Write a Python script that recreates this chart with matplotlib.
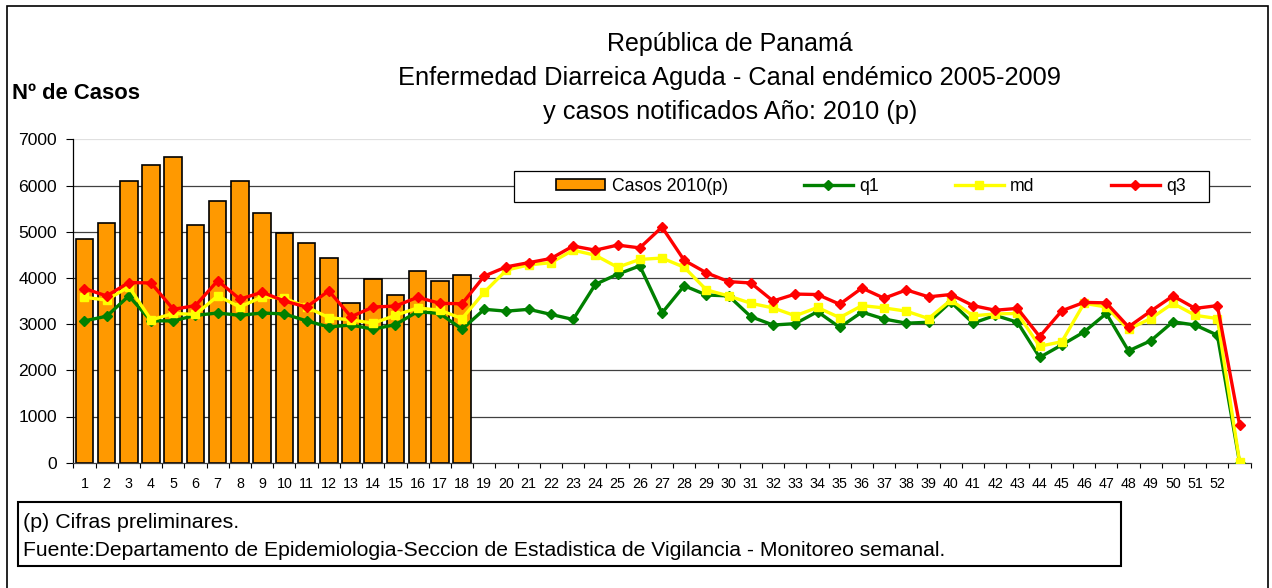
import matplotlib
matplotlib.use("Agg")
import matplotlib.pyplot as plt
import numpy as np
from matplotlib.patches import Rectangle
from matplotlib.lines import Line2D
from matplotlib.patches import Patch

plt.rcParams['font.family'] = ['Liberation Sans', 'DejaVu Sans']

# weeks 1..52 plus one trailing unlabeled week
week_labels = [str(i) for i in range(1, 53)]

casos_2010 = [4850, 5190, 6100, 6450, 6620, 5150, 5670, 6100, 5410, 4970,
              4760, 4420, 3460, 3980, 3640, 4150, 3940, 4070]

q1 = [3070, 3170, 3610, 3070, 3070, 3190, 3240, 3190, 3240, 3220,
      3070, 2940, 2980, 2890, 2990, 3270, 3230, 2890,
      3320, 3280, 3320, 3210, 3100, 3860, 4080, 4260, 3240, 3830,
      3630, 3610, 3160, 2980, 3010, 3270, 2930, 3260,
      3110, 3020, 3040, 3480, 3020, 3190, 3040, 2280, 2550, 2830,
      3230, 2420, 2640, 3050, 2980, 2760, 0]

md = [3580, 3520, 3810, 3090, 3230, 3210, 3610, 3370, 3590, 3560,
      3370, 3140, 3090, 3020, 3190, 3350, 3300, 3120,
      3690, 4170, 4280, 4330, 4600, 4490, 4230, 4400, 4430, 4230,
      3740, 3610, 3450, 3350, 3180, 3360, 3140, 3400,
      3350, 3280, 3120, 3520, 3180, 3220, 3230, 2520, 2620, 3450,
      3370, 2890, 3120, 3450, 3190, 3120, 20]

q3 = [3770, 3610, 3900, 3890, 3320, 3400, 3940, 3540, 3690, 3500,
      3370, 3720, 3160, 3370, 3390, 3580, 3450, 3440,
      4040, 4240, 4330, 4420, 4690, 4600, 4710, 4650, 5100, 4380,
      4110, 3920, 3890, 3500, 3650, 3640, 3430, 3780,
      3560, 3740, 3590, 3640, 3400, 3300, 3340, 2730, 3290, 3470,
      3460, 2940, 3280, 3610, 3340, 3400, 820]

W, H = 1272, 588


def fx(x):
    return x / W


def fy(y):
    return 1 - y / H


fig = plt.figure(figsize=(W / 100, H / 100), dpi=100)
ax = fig.add_axes([fx(73.3), fy(462.7), (1250.7 - 73.3) / W, (462.7 - 139.3) / H])

n = len(q1)
x = np.arange(n)

# gridlines behind everything
for v in range(1000, 7000, 1000):
    ax.axhline(v, color='#404040', lw=0.9, zorder=0)
ax.axhline(7000, color='#e0e0e0', lw=0.9, zorder=0)

ax.bar(np.arange(len(casos_2010)), casos_2010, width=0.79, color='#FF9900',
       edgecolor='black', linewidth=1.2, zorder=2)

ax.plot(x, q1, color='#008000', lw=2.4, marker='D', ms=5.5, zorder=3)
ax.plot(x, md, color='#FFFF00', lw=2.4, marker='s', ms=5.5, zorder=4)
ax.plot(x, q3, color='#FF0000', lw=2.4, marker='D', ms=5.5, zorder=5)

ax.set_xlim(-0.5, n - 0.5)
ax.set_ylim(0, 7000)
ax.set_yticks(range(0, 7001, 1000))
ax.tick_params(axis='y', length=4.75, width=0.8, pad=7, labelsize=12.6)

ax.set_xticks(np.arange(52))
ax.set_xticklabels(week_labels)
ax.set_xticks(np.arange(-0.5, n, 1), minor=True)
ax.tick_params(axis='x', which='major', length=0, pad=10, labelsize=10.3)
ax.tick_params(axis='x', which='minor', length=3.5, width=0.8)

for s in ['top', 'right']:
    ax.spines[s].set_visible(False)
ax.spines['left'].set_linewidth(0.9)
ax.spines['bottom'].set_linewidth(0.9)
ax.spines['bottom'].set_color('#404040')
ax.set_facecolor('none')

# titles
fig.text(fx(730), fy(51), 'República de Panamá', ha='center', va='baseline', fontsize=18)
fig.text(fx(730), fy(85), 'Enfermedad Diarreica Aguda - Canal endémico 2005-2009',
         ha='center', va='baseline', fontsize=18.3)
fig.text(fx(730), fy(119), 'y casos notificados Año: 2010 (p)', ha='center',
         va='baseline', fontsize=18.3)
fig.text(fx(12), fy(99), 'Nº de Casos', ha='left', va='baseline', fontsize=15.8,
         fontweight='bold')

# legend box
fig.patches.append(Rectangle((fx(514), fy(202)), (1209 - 514) / W, 31 / H,
                             transform=fig.transFigure, facecolor='white',
                             edgecolor='black', lw=0.9, zorder=1))
handles = [Patch(facecolor='#FF9900', edgecolor='black', lw=1.2),
           Line2D([], [], color='#008000', lw=2.4, marker='D', ms=5.5),
           Line2D([], [], color='#FFFF00', lw=2.4, marker='s', ms=5.5),
           Line2D([], [], color='#FF0000', lw=2.4, marker='D', ms=5.5)]
fig.legend(handles, ['Casos 2010(p)', 'q1', 'md', 'q3'], loc='center left',
           bbox_to_anchor=(fx(556), fy(186.5)), ncol=4, frameon=False,
           fontsize=12.7, borderpad=0, borderaxespad=0, handlelength=2.8,
           handleheight=0.55, handletextpad=0.35, columnspacing=4.3)

# footnote box
fig.patches.append(Rectangle((fx(18), fy(566)), (1121 - 18) / W, 64 / H,
                             transform=fig.transFigure, facecolor='white',
                             edgecolor='black', lw=1.5, zorder=1))
fig.text(fx(23), fy(523), '(p) Cifras preliminares.', ha='left', va='center',
         fontsize=15.4)
fig.text(fx(23), fy(550),
         'Fuente:Departamento de Epidemiologia-Seccion de Estadistica de Vigilancia - Monitoreo semanal.',
         ha='left', va='center', fontsize=15.2)

# outer frame
fig.patches.append(Rectangle((fx(7), fy(600)), (1268 - 7) / W, 594 / H,
                             transform=fig.transFigure, facecolor='none',
                             edgecolor='black', lw=1.2, zorder=0))

fig.savefig('out.png', dpi=100)
